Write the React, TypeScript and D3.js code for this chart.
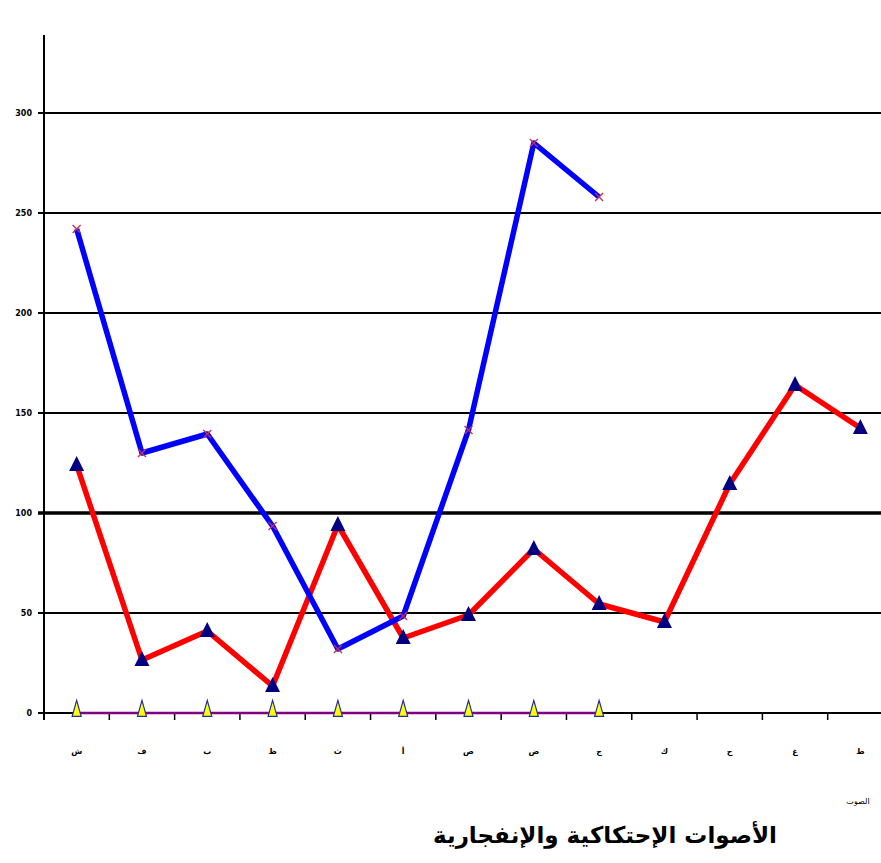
import React from "react";
import * as d3 from "d3";

const categories = ["ش", "ف", "ب", "ظ", "ث", "أ", "ص", "ض", "ج", "ك", "ح", "غ", "ط"];
const blueValues = [242, 130, 139.5, 93.5, 32, 48.5, 141.5, 285, 258];
const redValues = [124, 26.5, 41, 13.5, 94, 37.5, 49, 82, 54.5, 45.5, 114.5, 164, 142.5];
const zeroValues = [0, 0, 0, 0, 0, 0, 0, 0, 0];
const yTicks = [0, 50, 100, 150, 200, 250, 300];
const title = "الأصوات الإحتكاكية والإنفجارية";
const axisName = "الصوت";

const W = 881;
const H = 863;

export default function App() {
  const x = d3.scaleBand<string>().domain(categories).range([44, 893]);
  const cx = (i: number) => (x(categories[i]) as number) + x.bandwidth() / 2;
  const y = d3.scaleLinear().domain([0, 300]).range([713, 113]);

  const line = d3
    .line<number>()
    .x((_, i) => cx(i))
    .y((d) => y(d));

  const tri = (px: number, py: number, w: number, h: number) =>
    `M${px},${py - h * 0.6}L${px + w / 2},${py + h * 0.4}L${px - w / 2},${py + h * 0.4}Z`;

  return (
    <svg
      width={W}
      height={H}
      style={{ position: "absolute", left: 0, top: 0, background: "#fff" }}
      fontFamily="DejaVu Sans, sans-serif"
    >
      {/* gridlines */}
      {yTicks
        .filter((t) => t > 0)
        .map((t) => (
          <line
            key={t}
            x1={44}
            x2={W}
            y1={y(t)}
            y2={y(t)}
            stroke="#000"
            strokeWidth={t === 100 ? 3.5 : 2}
          />
        ))}
      {/* y tick labels and ticks */}
      {yTicks.map((t) => (
        <g key={"yl" + t}>
          <line x1={38} x2={44} y1={y(t)} y2={y(t)} stroke="#000" strokeWidth={t === 100 ? 3.5 : 2} />
          <text
            x={32}
            y={y(t)}
            textAnchor="end"
            dominantBaseline="central"
            fontSize={8}
            fontWeight="bold"
          >
            {t}
          </text>
        </g>
      ))}
      {/* y axis */}
      <line x1={44} x2={44} y1={y(339)} y2={720} stroke="#000" strokeWidth={2} />
      {/* x axis */}
      <line x1={38} x2={W} y1={y(0)} y2={y(0)} stroke="#000" strokeWidth={2} />
      {categories.map((c, i) => (
        <line
          key={"xt" + c + i}
          x1={x(c) as number}
          x2={x(c) as number}
          y1={y(0)}
          y2={y(0) + 7}
          stroke="#000"
          strokeWidth={1.5}
        />
      ))}
      {categories.map((c, i) => (
        <text key={"xl" + i} x={cx(i)} y={754} textAnchor="middle" fontSize={8} fontWeight="bold">
          {c}
        </text>
      ))}

      {/* zero series */}
      <path d={line(zeroValues) || ""} fill="none" stroke="#800080" strokeWidth={2.5} />
      {zeroValues.map((v, i) => (
        <path
          key={"z" + i}
          d={tri(cx(i), y(v) - 3, 9, 16)}
          fill="#ffff00"
          stroke="#1f2f9f"
          strokeWidth={1.2}
        />
      ))}

      {/* red series */}
      <path d={line(redValues) || ""} fill="none" stroke="#ff0000" strokeWidth={5.5} strokeLinejoin="round" />
      {redValues.map((v, i) => (
        <path key={"r" + i} d={tri(cx(i), y(v), 15, 15)} fill="#000080" />
      ))}

      {/* blue series */}
      <path d={line(blueValues) || ""} fill="none" stroke="#0000ff" strokeWidth={5.5} strokeLinejoin="round" />
      {blueValues.map((v, i) => (
        <g key={"b" + i} stroke="#c0305a" strokeWidth={1.3}>
          <line x1={cx(i) - 4} x2={cx(i) + 4} y1={y(v) - 4} y2={y(v) + 4} />
          <line x1={cx(i) - 4} x2={cx(i) + 4} y1={y(v) + 4} y2={y(v) - 4} />
        </g>
      ))}

      {/* axis name */}
      <text x={858} y={804} textAnchor="middle" fontSize={8} direction="rtl">
        {axisName}
      </text>
      {/* title */}
      <text x={605} y={843} textAnchor="middle" fontSize={23} fontWeight="bold" direction="rtl">
        {title}
      </text>
    </svg>
  );
}
